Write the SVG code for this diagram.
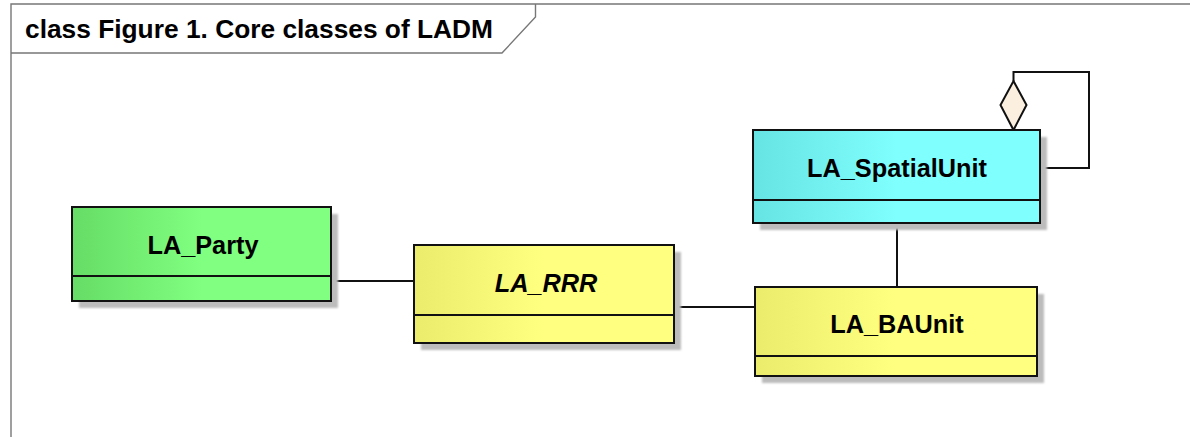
<svg xmlns="http://www.w3.org/2000/svg" width="1190" height="437" viewBox="0 0 1190 437">
<style>
.frame{fill:none;stroke:#777;stroke-width:1.4}
.box{stroke:#111;stroke-width:2}
.sh{fill:#bcbcbc;filter:url(#blur)}
.div{stroke:#111;stroke-width:2}
.lbl{font-family:"Liberation Sans",Arial,sans-serif;font-weight:bold;font-size:25.3px;fill:#000;text-anchor:middle}
.conn{fill:none;stroke:#111;stroke-width:2}
.title{font-family:"Liberation Sans",Arial,sans-serif;font-weight:bold;font-size:26px;fill:#000}
</style>
<defs>
<filter id="blur" x="-10%" y="-10%" width="120%" height="120%"><feGaussianBlur stdDeviation="1.3"/></filter>
<linearGradient id="gG" x1="0" y1="0" x2="1" y2="0"><stop offset="0" stop-color="#66dd66"/><stop offset="0.5" stop-color="#80ff80"/><stop offset="1" stop-color="#80ff80"/></linearGradient>
<linearGradient id="gY" x1="0" y1="0" x2="1" y2="0"><stop offset="0" stop-color="#ebeb6c"/><stop offset="0.5" stop-color="#ffff80"/><stop offset="1" stop-color="#ffff80"/></linearGradient>
<linearGradient id="gC" x1="0" y1="0" x2="1" y2="0"><stop offset="0" stop-color="#66e3e3"/><stop offset="0.5" stop-color="#80ffff"/><stop offset="1" stop-color="#80ffff"/></linearGradient>
</defs>
<rect x="0" y="0" width="1190" height="437" fill="#fff"/>
<g id="frame">
<polyline class="frame" points="11,440 11,4 1195,4"/>
<polyline class="frame" points="11,53 502,53 535.5,17 535.5,4"/>
<text class="title" x="25" y="38" textLength="468" lengthAdjust="spacingAndGlyphs">class Figure 1. Core classes of LADM</text>
</g>
<g id="connectors">
<line class="conn" x1="331" y1="281" x2="414" y2="281"/>
<line class="conn" x1="674" y1="307" x2="755" y2="307"/>
<line class="conn" x1="897" y1="223" x2="897" y2="287"/>
<polyline class="conn" points="1040,168 1089,168 1089,72 1013.5,72 1013.5,81"/>
<polygon points="1013.5,81 1026.5,105 1013.5,130 1000.5,105" fill="#fbf0e0" stroke="#111" stroke-width="2"/>
</g>
<g id="LA_Party">
<rect class="sh" x="79" y="214" width="259" height="94"/>
<rect class="box" x="72" y="207" width="259" height="94" fill="url(#gG)"/>
<line class="div" x1="72" y1="276" x2="331" y2="276"/>
<text class="lbl" x="203" y="254">LA_Party</text>
</g>
<g id="LA_RRR">
<rect class="sh" x="421" y="252" width="260" height="98"/>
<rect class="box" x="414" y="245" width="260" height="98" fill="url(#gY)"/>
<line class="div" x1="414" y1="315" x2="674" y2="315"/>
<text class="lbl" x="546" y="292" font-style="italic">LA_RRR</text>
</g>
<g id="LA_SpatialUnit">
<rect class="sh" x="760" y="137" width="287" height="93"/>
<rect class="box" x="753" y="130" width="287" height="93" fill="url(#gC)"/>
<line class="div" x1="753" y1="200" x2="1040" y2="200"/>
<text class="lbl" x="897" y="177">LA_SpatialUnit</text>
</g>
<g id="LA_BAUnit">
<rect class="sh" x="762" y="294" width="282" height="89"/>
<rect class="box" x="755" y="287" width="282" height="89" fill="url(#gY)"/>
<line class="div" x1="755" y1="356" x2="1037" y2="356"/>
<text class="lbl" x="897" y="333">LA_BAUnit</text>
</g>
</svg>
